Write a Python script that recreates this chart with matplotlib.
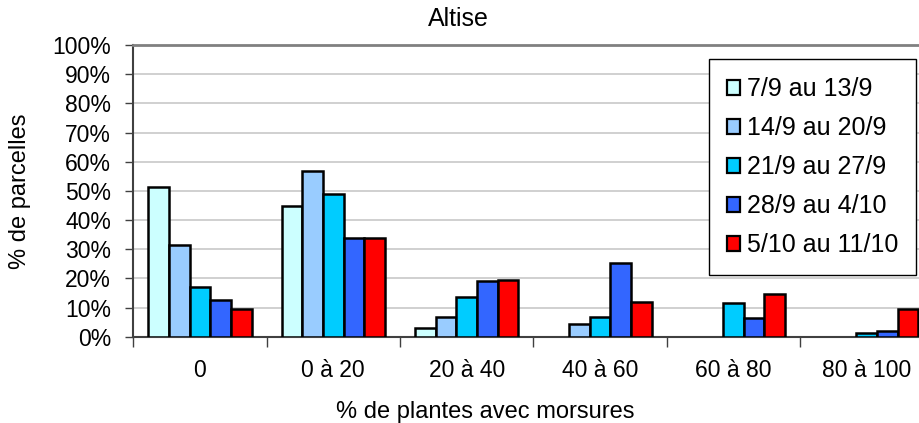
import numpy as np
from matplotlib import pyplot as plt
from matplotlib.patches import Patch

plt.rcParams['font.family'] = ['Liberation Sans', 'DejaVu Sans']

categories = ['0', '0 à 20', '20 à 40', '40 à 60', '60 à 80', '80 à 100']
periods = ['7/9 au 13/9', '14/9 au 20/9', '21/9 au 27/9', '28/9 au 4/10', '5/10 au 11/10']
colors = ['#CCFFFF', '#99CCFF', '#00CCFF', '#3366FF', '#FF0000']

# % de parcelles, one list per period
p1 = [51.4, 44.9, 2.9, 0.0, 0.0, 0.0]
p2 = [31.6, 56.7, 6.7, 4.5, 0.0, 0.0]
p3 = [17.0, 49.0, 13.5, 6.7, 11.7, 1.4]
p4 = [12.6, 33.7, 19.1, 25.2, 6.4, 1.9]
p5 = [9.5, 34.0, 19.5, 12.0, 14.5, 9.5]
series = [p1, p2, p3, p4, p5]

fs = 16.5
W, H = 920, 423
fig = plt.figure(figsize=(W / 100, H / 100), dpi=100)
ax = fig.add_axes([133.3 / W, 1 - 336.7 / H, 800 / W, (336.7 - 45) / H])

x = np.arange(len(categories))
bw = 0.155
for j, vals in enumerate(series):
    vals = np.array(vals)
    keep = vals > 0
    ax.bar(x[keep] + (j - 2) * bw, vals[keep], bw, color=colors[j],
           edgecolor='black', linewidth=1.8, zorder=3)

ax.set_xlim(-0.5, len(categories) - 0.5)
ax.set_ylim(0, 100)
ax.set_yticks(np.arange(0, 101, 10))
ax.set_yticklabels([f'{v}%' for v in range(0, 101, 10)], fontsize=fs)
ax.yaxis.grid(True, color='#C8C8C8', linewidth=1.2, zorder=0)

ax.set_xticks(np.arange(-0.5, len(categories), 1.0))
ax.set_xticklabels([])
ax.set_xticks(x, minor=True)
ax.set_xticklabels(categories, minor=True, fontsize=fs)
ax.tick_params(axis='x', which='minor', length=0, pad=16)
ax.tick_params(axis='x', which='major', length=7, width=1, color='#404040')
ax.tick_params(axis='y', length=6, width=1, color='#404040', pad=10)

ax.spines['right'].set_visible(False)
ax.spines['top'].set_color('#808080')
ax.spines['top'].set_linewidth(2)
for s in ['left', 'bottom']:
    ax.spines[s].set_color('#404040')
    ax.spines[s].set_linewidth(1.5)

fig.text(458 / W, 1 - 19 / H, 'Altise', ha='center', va='center', fontsize=18)
fig.text(485 / W, 1 - 412 / H, '% de plantes avec morsures', ha='center',
         va='center', fontsize=17)
fig.text(20 / W, 1 - 191 / H, '% de parcelles', ha='center', va='center',
         rotation=90, fontsize=17)

handles = [Patch(facecolor=c, edgecolor='black', linewidth=1.6) for c in colors]
leg = fig.legend(handles, periods, loc='upper right',
                 bbox_to_anchor=(916 / W, 1 - 59 / H), borderaxespad=0,
                 fontsize=18, fancybox=False, framealpha=1, edgecolor='black',
                 handlelength=0.55, handleheight=0.55, handletextpad=0.25,
                 labelspacing=0.6, borderpad=0.72)
leg.get_frame().set_linewidth(1)

fig.savefig('out.png', dpi=100)
